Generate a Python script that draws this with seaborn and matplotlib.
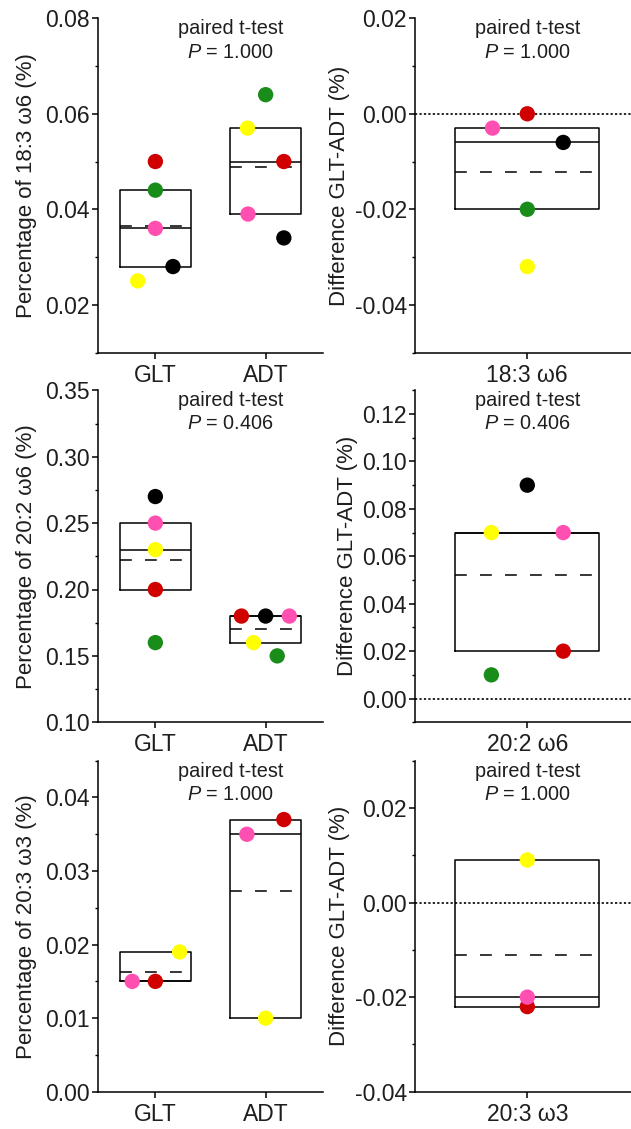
import numpy as np
import matplotlib
matplotlib.use("Agg")
import matplotlib.pyplot as plt
import seaborn as sns
from matplotlib.ticker import MultipleLocator, FormatStrFormatter

# ---------------------------------------------------------------- data
subjects = ["red", "green", "pink", "yellow", "black"]
subject_colors = {"red": "#d00000", "green": "#1a8c1a", "pink": "#ff4fb0",
                  "yellow": "#ffff00", "black": "#000000"}
groups = ["GLT", "ADT"]
fatty_acids = ["18:3 ω6", "20:2 ω6", "20:3 ω3"]
p_values = ["1.000", "0.406", "1.000"]

nan = np.nan
glt_183 = [0.050, 0.044, 0.036, 0.025, 0.028]
adt_183 = [0.050, 0.064, 0.039, 0.057, 0.034]
diff_183 = [0.000, -0.020, -0.003, -0.032, -0.006]

glt_202 = [0.20, 0.16, 0.25, 0.23, 0.27]
adt_202 = [0.18, 0.15, 0.18, 0.16, 0.18]
diff_202 = [0.02, 0.01, 0.07, 0.07, 0.09]

glt_203 = [0.015, nan, 0.015, 0.019, nan]
adt_203 = [0.037, nan, 0.035, 0.010, nan]
diff_203 = [-0.022, nan, -0.020, 0.009, nan]

# ---------------------------------------------------------------- layout
# horizontal spread of overlapping points (category units)
spread = {
    "glt_183": [0, 0, 0, -0.16, 0.16],
    "adt_183": [0.165, 0, -0.16, -0.165, 0.165],
    "diff_183": [0, 0, -0.155, 0, 0.16],
    "glt_202": [0, 0, 0, 0, 0],
    "adt_202": [-0.22, 0.105, 0.215, -0.11, 0],
    "diff_202": [0.16, -0.16, 0.16, -0.16, 0],
    "glt_203": [0, 0, -0.21, 0.22, 0],
    "adt_203": [0.165, 0, -0.17, 0, 0],
    "diff_203": [0, 0, 0, 0, 0],
}

rows = [
    dict(glt=glt_183, adt=adt_183, diff=diff_183, key="183",
         ylim=(0.01, 0.08), major=0.02, minor=0.01,
         dlim=(-0.05, 0.02), dmajor=0.02, dminor=0.01),
    dict(glt=glt_202, adt=adt_202, diff=diff_202, key="202",
         ylim=(0.10, 0.35), major=0.05, minor=0.025,
         dlim=(-0.01, 0.13), dmajor=0.02, dminor=0.01),
    dict(glt=glt_203, adt=adt_203, diff=diff_203, key="203",
         ylim=(0.0, 0.045), major=0.01, minor=0.005,
         dlim=(-0.04, 0.03), dmajor=0.02, dminor=0.01),
]

W, H = 631, 1129
row_px = [(18.3, 352.5), (390.3, 722.3), (760.7, 1091.7)]
left_px = (98, 323)
right_px = (415, 639.6)

sns.set_theme(style="ticks")
plt.rcParams["font.family"] = ["Liberation Sans", "DejaVu Sans"]
plt.rcParams["mathtext.fontset"] = "custom"
plt.rcParams["mathtext.it"] = "Liberation Sans:italic"
plt.rcParams["mathtext.rm"] = "Liberation Sans"
plt.rcParams["axes.unicode_minus"] = False
plt.rcParams["lines.scale_dashes"] = False

LW = 1.1
TXT = "#1e1e1e"
fig = plt.figure(figsize=(W / 100, H / 100), dpi=100)


def box_stats(values):
    v = np.asarray(values, dtype=float)
    v = v[~np.isnan(v)]
    q1 = np.percentile(v, 25, method="lower")
    q3 = np.percentile(v, 75, method="higher")
    return dict(med=np.median(v), q1=q1, q3=q3, whislo=q1, whishi=q3,
                mean=v.mean(), fliers=[])


def draw_box(ax, values, pos):
    ax.bxp([box_stats(values)], positions=[pos], widths=0.64,
           showcaps=False, showfliers=False, showmeans=True, meanline=True,
           manage_ticks=False,
           boxprops=dict(color="black", linewidth=LW),
           whiskerprops=dict(linewidth=0),
           medianprops=dict(color="black", linewidth=LW),
           meanprops=dict(color="black", linewidth=LW,
                          linestyle=(0, (8.5, 9.5))),
           zorder=2)


def draw_points(ax, values, pos, offs):
    x = [pos + o for o in offs]
    sns.scatterplot(x=x, y=values, hue=subjects, palette=subject_colors,
                    s=122, linewidth=0, legend=False, zorder=3, ax=ax)


def style_axis(ax, ylim, major, minor):
    ax.set_ylim(*ylim)
    ax.yaxis.set_major_locator(MultipleLocator(major))
    ax.yaxis.set_minor_locator(MultipleLocator(minor))
    ax.yaxis.set_major_formatter(FormatStrFormatter("%.2f"))
    sns.despine(ax=ax)
    for s in ("left", "bottom"):
        ax.spines[s].set_linewidth(LW)
        ax.spines[s].set_color("black")
    ax.tick_params(axis="both", which="major", direction="out", length=4,
                   width=LW, labelsize=16.5, color="black", labelcolor=TXT)
    ax.tick_params(axis="y", which="minor", direction="out", length=2.2,
                   width=1.0, color="black")
    ax.tick_params(axis="y", which="major", pad=2)
    ax.tick_params(axis="x", which="major", pad=4)
    ax.set_facecolor("white")


def annotate(ax, x, p):
    tr = ax.get_xaxis_transform()
    ax.text(x, 0.968, "paired t-test", transform=tr, ha="center",
            va="center", fontsize=14.3, color=TXT)
    ax.text(x, 0.899, rf"$P$ = {p}", transform=tr, ha="center",
            va="center", fontsize=14.3, color=TXT)


for r, row in enumerate(rows):
    top, bot = row_px[r]
    y0 = 1 - bot / H
    h = (bot - top) / H

    # group comparison
    axl = fig.add_axes([left_px[0] / W, y0, (left_px[1] - left_px[0]) / W, h])
    k = row["key"]
    draw_box(axl, row["glt"], 0)
    draw_box(axl, row["adt"], 1)
    draw_points(axl, row["glt"], 0, spread["glt_" + k])
    draw_points(axl, row["adt"], 1, spread["adt_" + k])
    axl.set_xlim(-0.52, 1.52)
    axl.set_xticks([0, 1])
    axl.set_xticklabels(groups)
    style_axis(axl, row["ylim"], row["major"], row["minor"])
    axl.set_ylabel(f"Percentage of {fatty_acids[r]} (%)", fontsize=16,
                   color=TXT, labelpad=6)
    axl.set_xlabel("")
    annotate(axl, 0.683, p_values[r])

    # paired difference
    axr = fig.add_axes([right_px[0] / W, y0, (right_px[1] - right_px[0]) / W, h])
    axr.axhline(0, color="black", linewidth=1.2, linestyle=(0, (1.6, 1.6)),
                zorder=1)
    draw_box(axr, row["diff"], 0)
    draw_points(axr, row["diff"], 0, spread["diff_" + k])
    axr.set_xlim(-0.5, 0.5)
    axr.set_xticks([0])
    axr.set_xticklabels([fatty_acids[r]])
    style_axis(axr, row["dlim"], row["dmajor"], row["dminor"])
    axr.set_ylabel("Difference GLT-ADT (%)", fontsize=16, color=TXT,
                   labelpad=3)
    axr.set_xlabel("")
    annotate(axr, 0.0, p_values[r])

fig.savefig("out.png", dpi=100, facecolor="white")
